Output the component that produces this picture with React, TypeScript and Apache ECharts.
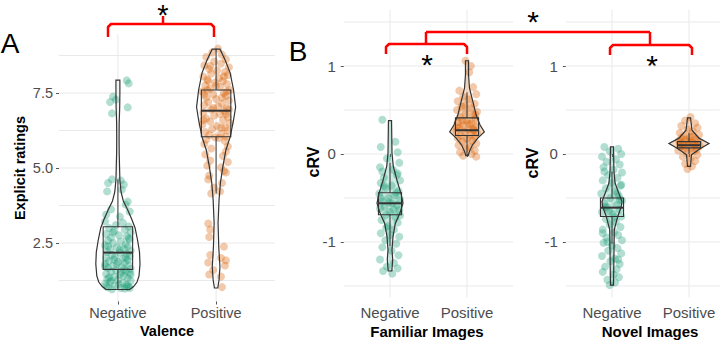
import { useEffect, useRef } from "react";
import * as echarts from "echarts";

// ---------- categories, ticks, grid lines ----------
const valenceCats = ["Negative", "Positive"];
const ratingTicks = [2.5, 5, 7.5];
const ratingGridLines = [1.25, 2.5, 3.75, 5, 6.25, 7.5, 8.75];
const crvTicks = [-1, 0, 1];
const crvGridLines = [-1.5, -1, -0.5, 0, 0.5, 1, 1.5];
const catCentres = [1, 2];

// ---------- jittered observations: [offset from category centre, value] ----------
const ratingsNegative: number[][] = [
  [0.09, 7.92], [0.11, 7.82], [-0.05, 7.38], [-0.08, 7.2], [0.1, 7.02], [-0.06, 6.82], [-0.02, 7.28],
  [-0.06, 4.62], [0.03, 4.58], [-0.1, 4.5], [0.06, 4.45], [-0.11, 4.22], [0.04, 4.28], [0.1, 3.88],
  [0.08, 3.78], [-0.07, 3.62], [0.12, 3.55], [-0.12, 3.45], [0.02, 3.38],
  [-0.13, 3.22], [0.05, 3.18], [-0.02, 3.1], [0.11, 3.05], [-0.09, 3.0], [0.07, 2.95], [-0.04, 2.9],
  [0.13, 2.86], [-0.12, 2.8], [0.01, 2.76], [0.09, 2.72], [-0.07, 2.68], [0.12, 2.62], [-0.1, 2.58],
  [0.03, 2.55], [-0.05, 2.5], [0.08, 2.46], [-0.13, 2.42], [0.1, 2.38], [-0.01, 2.35], [0.06, 2.31],
  [-0.08, 2.28], [0.13, 2.24], [-0.11, 2.2], [0.02, 2.18], [0.09, 2.14], [-0.06, 2.1], [0.12, 2.06],
  [-0.03, 2.03], [-0.12, 2.0], [0.05, 1.97], [0.1, 1.93], [-0.09, 1.9], [0.0, 1.87], [0.07, 1.84],
  [-0.13, 1.8], [0.11, 1.77], [-0.05, 1.74], [0.04, 1.7], [-0.1, 1.67], [0.13, 1.64], [-0.02, 1.6],
  [0.08, 1.57], [-0.07, 1.54], [0.12, 1.5], [-0.12, 1.47], [0.02, 1.44], [0.06, 1.4], [-0.04, 1.37],
  [0.1, 1.33], [-0.11, 1.3], [0.0, 1.27], [0.13, 1.24], [-0.08, 1.2], [0.05, 1.17], [-0.13, 1.14],
  [0.09, 1.11], [-0.03, 1.08], [0.11, 1.05], [-0.1, 1.02], [0.03, 1.0], [0.07, 0.98], [-0.06, 0.96],
  [0.12, 1.0], [-0.12, 1.06], [0.01, 1.12], [-0.09, 1.35], [0.04, 1.52], [-0.01, 1.8], [0.08, 2.02],
  [-0.1, 2.4], [0.11, 2.66], [-0.04, 1.95], [0.06, 1.62], [-0.07, 1.25], [0.13, 1.45], [-0.13, 1.72],
  [0.02, 2.28], [0.09, 1.05], [-0.05, 2.85],
];
const ratingsPositive: number[][] = [
  [-0.08, 3.15], [-0.06, 2.95], [-0.07, 2.7], [0.08, 2.38], [-0.06, 2.1], [0.05, 2.0], [0.09, 1.75],
  [-0.08, 1.85], [-0.07, 1.45], [0.05, 1.38], [0.06, 1.03], [-0.03, 1.6], [0.1, 1.92],
  [-0.1, 5.95], [0.09, 5.9], [-0.12, 5.8], [0.12, 5.72], [-0.05, 5.65], [0.1, 5.55], [-0.11, 5.45],
  [0.07, 5.4], [-0.06, 5.25], [0.12, 5.2], [-0.09, 5.08], [0.05, 5.02], [0.08, 4.9], [-0.07, 4.75],
  [-0.08, 4.62], [0.06, 4.5], [-0.02, 4.35], [0.04, 4.22], [-0.05, 4.15], [0.1, 4.85],
  [0.02, 8.98], [-0.04, 8.85], [0.06, 8.78], [-0.1, 8.7], [0.1, 8.62], [-0.02, 8.55], [0.05, 8.48],
  [-0.12, 8.42], [0.13, 8.36], [-0.07, 8.3], [0.01, 8.25], [0.09, 8.2], [-0.05, 8.15], [0.12, 8.1],
  [-0.13, 8.05], [0.03, 8.0], [-0.09, 7.95], [0.07, 7.9], [-0.01, 7.85], [0.11, 7.8], [-0.11, 7.75],
  [0.04, 7.7], [-0.06, 7.65], [0.14, 7.6], [-0.14, 7.55], [0.08, 7.5], [-0.03, 7.45], [0.1, 7.4],
  [-0.1, 7.35], [0.0, 7.3], [0.13, 7.25], [-0.08, 7.2], [0.06, 7.15], [-0.12, 7.1], [0.02, 7.05],
  [0.11, 7.0], [-0.05, 6.95], [0.08, 6.9], [-0.13, 6.85], [0.04, 6.8], [-0.02, 6.75], [0.12, 6.7],
  [-0.1, 6.65], [0.07, 6.6], [-0.06, 6.55], [0.14, 6.5], [-0.14, 6.45], [0.01, 6.4], [0.09, 6.35],
  [-0.04, 6.3], [0.12, 6.25], [-0.11, 6.2], [0.05, 6.15], [-0.07, 6.1], [0.1, 6.05], [-0.01, 6.02],
  [0.03, 6.0], [-0.09, 7.6], [0.06, 7.35], [-0.03, 7.0], [0.1, 6.8], [-0.12, 7.45], [0.08, 8.05],
  [-0.06, 8.4], [0.0, 7.75], [0.13, 6.95], [-0.13, 6.6], [0.05, 6.35], [-0.08, 7.9], [0.11, 7.55],
];
const familiarNegative: number[][] = [
  [-0.1, 0.39], [0.07, 0.14], [-0.12, 0.08], [0.1, 0.02], [-0.04, -0.05], [0.12, -0.1], [-0.13, -0.15],
  [0.04, -0.18], [0.09, -0.24], [-0.08, -0.27], [0.13, -0.3], [-0.12, -0.33], [0.02, -0.36],
  [-0.06, -0.39], [0.11, -0.42], [-0.14, -0.45], [0.06, -0.47], [-0.02, -0.5], [0.13, -0.52],
  [-0.1, -0.54], [0.03, -0.56], [0.09, -0.58], [-0.07, -0.6], [-0.13, -0.62], [0.12, -0.64],
  [0.0, -0.66], [-0.05, -0.69], [0.07, -0.72], [-0.11, -0.75], [0.1, -0.78], [-0.03, -0.82],
  [0.05, -0.86], [-0.12, -0.9], [0.12, -0.94], [-0.06, -0.98], [0.08, -1.02], [-0.1, -1.06],
  [0.02, -1.1], [0.11, -1.15], [-0.13, -1.2], [0.05, -1.24], [-0.04, -1.28], [0.1, -1.3],
  [-0.09, -1.33], [0.03, -1.36], [-0.08, -0.36], [0.05, -0.63], [-0.01, -0.55], [0.13, -0.7],
  [-0.12, -0.5], [0.08, -0.44], [-0.05, -0.84], [0.1, -0.22], [-0.1, -0.2], [0.0, -0.92],
];
const familiarPositive: number[][] = [
  [-0.02, 1.06], [0.05, 1.0], [0.03, 0.93], [0.08, 0.76], [-0.1, 0.72], [0.12, 0.68], [-0.05, 0.65],
  [0.02, 0.62], [-0.12, 0.6], [0.1, 0.57], [-0.07, 0.54], [0.05, 0.52], [-0.13, 0.5], [0.13, 0.48],
  [-0.02, 0.46], [0.08, 0.44], [-0.09, 0.42], [0.11, 0.4], [0.0, 0.38], [-0.12, 0.36], [0.06, 0.35],
  [-0.05, 0.33], [0.12, 0.31], [-0.1, 0.3], [0.02, 0.28], [0.09, 0.27], [-0.14, 0.26], [-0.03, 0.25],
  [0.13, 0.24], [0.05, 0.22], [-0.08, 0.21], [0.1, 0.2], [-0.12, 0.18], [0.0, 0.17], [0.07, 0.15],
  [-0.06, 0.14], [0.12, 0.12], [-0.11, 0.1], [0.04, 0.08], [-0.02, 0.06], [0.1, 0.04], [-0.09, 0.02],
  [0.06, 0.0], [-0.05, -0.02], [0.12, -0.03], [-0.13, 0.3], [0.03, 0.34], [0.08, 0.28], [-0.06, 0.38],
  [0.11, 0.45], [-0.03, 0.55],
];
const novelNegative: number[][] = [
  [-0.1, 0.08], [0.08, 0.06], [-0.03, 0.03], [0.12, 0.0], [-0.13, -0.03], [0.05, -0.06], [-0.07, -0.09],
  [0.1, -0.12], [-0.11, -0.15], [0.02, -0.18], [0.13, -0.21], [-0.05, -0.24], [0.07, -0.27],
  [-0.12, -0.3], [0.0, -0.33], [0.11, -0.36], [-0.08, -0.39], [0.04, -0.42], [-0.14, -0.45],
  [0.09, -0.48], [-0.02, -0.5], [0.13, -0.53], [-0.1, -0.56], [0.06, -0.58], [-0.06, -0.61],
  [0.1, -0.63], [-0.13, -0.66], [0.01, -0.68], [0.12, -0.71], [-0.08, -0.74], [0.05, -0.77],
  [-0.03, -0.8], [0.11, -0.83], [-0.12, -0.86], [0.03, -0.89], [0.08, -0.92], [-0.07, -0.95],
  [0.13, -0.98], [-0.11, -1.01], [0.0, -1.04], [0.07, -1.07], [-0.05, -1.1], [0.12, -1.13],
  [-0.13, -1.16], [0.04, -1.19], [-0.02, -1.22], [0.1, -1.25], [-0.09, -1.28], [0.06, -1.31],
  [-0.12, -1.34], [0.02, -1.37], [0.09, -1.4], [-0.06, -1.43], [0.04, -1.46], [-0.03, -1.49],
  [-0.1, -0.2], [0.07, -0.45], [-0.04, -0.65], [0.1, -0.52], [-0.09, -0.6], [0.03, -0.72],
  [-0.12, -0.9], [0.12, -0.35], [-0.06, -1.0], [0.08, -1.2],
];
const novelPositive: number[][] = [
  [0.02, 0.42], [-0.05, 0.38], [0.08, 0.35], [-0.1, 0.32], [0.11, 0.3], [-0.02, 0.28], [0.05, 0.26],
  [-0.12, 0.24], [0.13, 0.22], [-0.07, 0.2], [0.01, 0.19], [0.09, 0.17], [-0.04, 0.16], [-0.13, 0.15],
  [0.12, 0.14], [0.04, 0.13], [-0.09, 0.12], [0.07, 0.11], [-0.01, 0.1], [0.14, 0.09], [-0.11, 0.08],
  [0.03, 0.07], [-0.06, 0.06], [0.1, 0.05], [-0.14, 0.04], [0.06, 0.03], [-0.03, 0.01], [0.11, -0.01],
  [-0.08, -0.03], [0.02, -0.05], [0.08, -0.08], [-0.05, -0.11], [0.04, -0.14], [-0.02, -0.17],
  [-0.1, 0.18], [0.09, 0.1], [-0.12, 0.12], [0.0, 0.14], [0.05, 0.2], [-0.07, 0.09],
];

// ---------- violin outlines: [value, half width in category units] ----------
const violinRatingsNegative: number[][] = [
  [0.95, 0.12], [1.05, 0.16], [1.2, 0.195], [1.4, 0.215], [1.8, 0.225], [2.2, 0.22], [2.6, 0.2],
  [3.0, 0.175], [3.3, 0.14], [3.6, 0.1], [3.9, 0.055], [4.2, 0.032], [4.6, 0.02], [5.0, 0.017],
  [5.5, 0.013], [6.0, 0.012], [6.5, 0.013], [7.0, 0.018], [7.5, 0.02], [7.93, 0.02],
];
const violinRatingsPositive: number[][] = [
  [1.0, 0.017], [1.27, 0.03], [1.7, 0.039], [2.37, 0.027], [3.17, 0.02], [3.93, 0.03], [4.5, 0.044],
  [5.03, 0.068], [5.6, 0.1], [6.03, 0.143], [6.6, 0.178], [7.03, 0.199], [7.6, 0.178], [8.17, 0.143],
  [8.6, 0.092], [8.96, 0.04],
];
const violinFamiliarNegative: number[][] = [
  [-1.33, 0.024], [-1.2, 0.035], [-1.09, 0.026], [-0.94, 0.039], [-0.79, 0.069], [-0.67, 0.13],
  [-0.56, 0.169], [-0.45, 0.143], [-0.3, 0.091], [-0.14, 0.043], [0.01, 0.026], [0.38, 0.02],
];
const violinFamiliarPositive: number[][] = [
  [-0.02, 0.015], [0.03, 0.032], [0.1, 0.069], [0.18, 0.14], [0.25, 0.225], [0.33, 0.17],
  [0.44, 0.12], [0.59, 0.078], [0.75, 0.032], [0.9, 0.02], [1.06, 0.02],
];
const violinNovelNegative: number[][] = [
  [-1.49, 0.02], [-1.09, 0.026], [-0.86, 0.03], [-0.71, 0.075], [-0.6, 0.12], [-0.54, 0.13],
  [-0.45, 0.09], [-0.33, 0.04], [-0.2, 0.026], [-0.14, 0.024], [0.08, 0.02],
];
const violinNovelPositive: number[][] = [
  [-0.14, 0.02], [-0.01, 0.032], [0.06, 0.143], [0.12, 0.26], [0.18, 0.13], [0.27, 0.039], [0.41, 0.02],
];

// ---------- box statistics: [lower whisker, Q1, median, Q3, upper whisker] ----------
const boxRatings: number[][] = [
  [0.97, 1.62, 2.18, 3.04, 4.62],
  [4.15, 6.04, 6.91, 7.6, 8.98],
];
const boxFamiliar: number[][] = [
  [-1.05, -0.69, -0.56, -0.44, -0.1],
  [-0.02, 0.21, 0.27, 0.41, 0.7],
];
const boxNovel: number[][] = [
  [-1.02, -0.71, -0.61, -0.5, -0.2],
  [0.0, 0.07, 0.1, 0.14, 0.24],
];

const GREEN = "27,158,119";
const ORANGE = "217,95,2";
const FONT = "'Liberation Sans', Arial, Helvetica, sans-serif";
const OUTLINE = "#333333";
const RED = "#ff0000";

type Panel = {
  grid: { left: number; top: number; width: number; height: number };
  xMax: number;
  yMin: number;
  yMax: number;
  ticks: number[];
  gridLines: number[];
  tickFormat: (v: number) => string;
  points: number[][][];
  violins: number[][][];
  boxes: number[][];
  violinFill: number;
  fontSize: number;
  yLabelMargin: number;
  xLabelMargin: number;
};

const panels: Panel[] = [
  {
    grid: { left: 59, top: 34.5, width: 216, height: 267 },
    xMax: 2.6, yMin: 0.55, yMax: 9.45,
    ticks: ratingTicks, gridLines: ratingGridLines,
    tickFormat: (v) => v.toFixed(1),
    points: [ratingsNegative, ratingsPositive],
    violins: [violinRatingsNegative, violinRatingsPositive],
    boxes: boxRatings, violinFill: 0, fontSize: 14.5, yLabelMargin: 6, xLabelMargin: 4,
  },
  {
    grid: { left: 343.8, top: 9.7, width: 169.4, height: 287.7 },
    xMax: 2.6, yMin: -1.63, yMax: 1.64,
    ticks: crvTicks, gridLines: crvGridLines,
    tickFormat: (v) => String(v),
    points: [familiarNegative, familiarPositive],
    violins: [violinFamiliarNegative, violinFamiliarPositive],
    boxes: boxFamiliar, violinFill: 0.22, fontSize: 15, yLabelMargin: 8, xLabelMargin: 8,
  },
  {
    grid: { left: 565.8, top: 9.7, width: 154, height: 287.7 },
    xMax: 2.4, yMin: -1.63, yMax: 1.64,
    ticks: crvTicks, gridLines: crvGridLines,
    tickFormat: (v) => String(v),
    points: [novelNegative, novelPositive],
    violins: [violinNovelNegative, violinNovelPositive],
    boxes: boxNovel, violinFill: 0.22, fontSize: 15, yLabelMargin: 8, xLabelMargin: 8,
  },
];

const groupColours = [GREEN, ORANGE];

function buildOption() {
  const grids: any[] = [];
  const xAxes: any[] = [];
  const yAxes: any[] = [];
  const series: any[] = [];

  panels.forEach((p, g) => {
    grids.push({ ...p.grid, containLabel: false });
    xAxes.push({
      type: "value", gridIndex: g, min: 0.4, max: p.xMax,
      axisLine: { show: false }, splitLine: { show: false },
      axisTick: { show: true, customValues: catCentres, length: 3, lineStyle: { color: "#555", width: 1 } },
      axisLabel: {
        customValues: catCentres,
        formatter: (v: number) => valenceCats[Math.round(v) - 1] ?? "",
        color: "#4d4d4d", fontSize: p.fontSize, fontFamily: FONT, margin: p.xLabelMargin,
      },
    });
    yAxes.push({
      type: "value", gridIndex: g, min: p.yMin, max: p.yMax,
      axisLine: { show: false }, splitLine: { show: false },
      axisTick: { show: true, customValues: p.ticks, length: 3, lineStyle: { color: "#555", width: 1 } },
      axisLabel: {
        customValues: p.ticks, formatter: p.tickFormat,
        color: "#4d4d4d", fontSize: p.fontSize, fontFamily: FONT, margin: p.yLabelMargin,
      },
    });

    // panel grid lines
    series.push({
      type: "custom", xAxisIndex: g, yAxisIndex: g, z: 0, silent: true,
      data: [[1, p.ticks[1]]],
      renderItem: (params: any, api: any) => {
        const cs = params.coordSys;
        const children: any[] = [];
        p.gridLines.forEach((v) => {
          const y = api.coord([1, v])[1];
          children.push({
            type: "line",
            shape: { x1: cs.x, y1: y, x2: cs.x + cs.width, y2: y },
            style: { stroke: "#e9e9e9", lineWidth: 1 },
          });
        });
        catCentres.forEach((c) => {
          const x = api.coord([c, p.ticks[1]])[0];
          children.push({
            type: "line",
            shape: { x1: x, y1: cs.y, x2: x, y2: cs.y + cs.height },
            style: { stroke: "#e9e9e9", lineWidth: 1 },
          });
        });
        return { type: "group", children };
      },
    });

    // jittered points
    p.points.forEach((pts, i) => {
      series.push({
        type: "scatter", xAxisIndex: g, yAxisIndex: g, z: 2, silent: true,
        symbolSize: 8,
        itemStyle: { color: `rgba(${groupColours[i]},0.42)` },
        data: pts.map(([dx, v]) => [catCentres[i] + dx, v]),
      });
    });

    // violins
    series.push({
      type: "custom", xAxisIndex: g, yAxisIndex: g, z: 3, silent: true,
      data: p.boxes.map((b, i) => [catCentres[i], b[2]]),
      renderItem: (params: any, api: any) => {
        const i = params.dataIndex;
        const cx = api.value(0);
        const prof = p.violins[i];
        const left = prof.map(([v, w]) => api.coord([cx - w, v]));
        const right = prof.slice().reverse().map(([v, w]) => api.coord([cx + w, v]));
        return {
          type: "polygon",
          shape: { points: left.concat(right) },
          style: {
            fill: p.violinFill > 0 ? `rgba(${groupColours[i]},${p.violinFill})` : "none",
            stroke: OUTLINE, lineWidth: 1.2,
          },
        };
      },
    });

    // box plots
    series.push({
      type: "custom", xAxisIndex: g, yAxisIndex: g, z: 4, silent: true,
      data: p.boxes.map((b, i) => [catCentres[i], b[2]]),
      renderItem: (params: any, api: any) => {
        const i = params.dataIndex;
        const cx = api.value(0);
        const [lo, q1, md, q3, hi] = p.boxes[i];
        const hw = 0.15;
        const c = (v: number) => api.coord([cx, v]);
        const tl = api.coord([cx - hw, q3]);
        const br = api.coord([cx + hw, q1]);
        const ml = api.coord([cx - hw, md]);
        const mr = api.coord([cx + hw, md]);
        const line = (a: number[], b: number[], w: number) => ({
          type: "line",
          shape: { x1: a[0], y1: a[1], x2: b[0], y2: b[1] },
          style: { stroke: OUTLINE, lineWidth: w },
        });
        return {
          type: "group",
          children: [
            line(c(q3), c(hi), 1),
            line(c(q1), c(lo), 1),
            {
              type: "rect",
              shape: { x: tl[0], y: tl[1], width: br[0] - tl[0], height: br[1] - tl[1] },
              style: { fill: "none", stroke: OUTLINE, lineWidth: 1.1 },
            },
            line(ml, mr, 2),
          ],
        };
      },
    });
  });

  const text = (
    t: string, x: number, y: number, size: number, bold: boolean,
    rotate = 0, vAlign = "middle", color = "#000",
  ) => ({
    type: "text", x, y, rotation: rotate, silent: true,
    style: {
      text: t, fill: color, fontSize: size, fontFamily: FONT,
      fontWeight: bold ? "bold" : "normal", align: "center", verticalAlign: vAlign,
    },
  });
  const redLine = (pts: number[][]) => ({
    type: "polyline", silent: true, z: 10,
    shape: { points: pts },
    style: { stroke: RED, lineWidth: 2.5, fill: "none", lineJoin: "round", lineCap: "butt" },
  });

  const graphic: any[] = [
    text("A", 10, 43, 28, false),
    text("B", 298, 51, 28, false),
    text("Explicit ratings", 20, 168, 14.5, true, Math.PI / 2),
    text("Valence", 167, 331, 14.5, true),
    text("cRV", 313, 162, 16, true, Math.PI / 2),
    text("Familiar Images", 427, 331, 15, true),
    text("cRV", 532, 163, 16, true, Math.PI / 2),
    text("Novel Images", 650, 331, 15, true),
    // significance brackets
    redLine([[108, 37], [108, 27], [111, 24], [211, 24], [214, 27], [214, 37]]),
    redLine([[163, 24], [163, 16]]),
    redLine([[386, 54], [386, 47], [389, 44], [464, 44], [467, 47], [467, 54]]),
    redLine([[426, 44], [426, 32]]),
    redLine([[426, 32], [650, 32]]),
    redLine([[610, 55], [610, 48], [613, 45], [689, 45], [692, 48], [692, 55]]),
    redLine([[650, 45], [650, 32]]),
    text("*", 163, 0, 29, false, 0, "top"),
    text("*", 427, 64.5, 30, false),
    text("*", 652, 65.5, 30, false),
    text("*", 533, 21.5, 30, false),
  ];

  return {
    animation: false,
    backgroundColor: "#ffffff",
    grid: grids,
    xAxis: xAxes,
    yAxis: yAxes,
    series,
    graphic,
  };
}

export default function App() {
  const ref = useRef<HTMLDivElement>(null);
  useEffect(() => {
    if (!ref.current) return;
    const chart = echarts.init(ref.current, undefined, { renderer: "svg" });
    chart.setOption(buildOption() as any);
    return () => chart.dispose();
  }, []);
  return (
    <div
      ref={ref}
      style={{ position: "absolute", left: 0, top: 0, width: 720, height: 344, background: "#fff" }}
    />
  );
}
